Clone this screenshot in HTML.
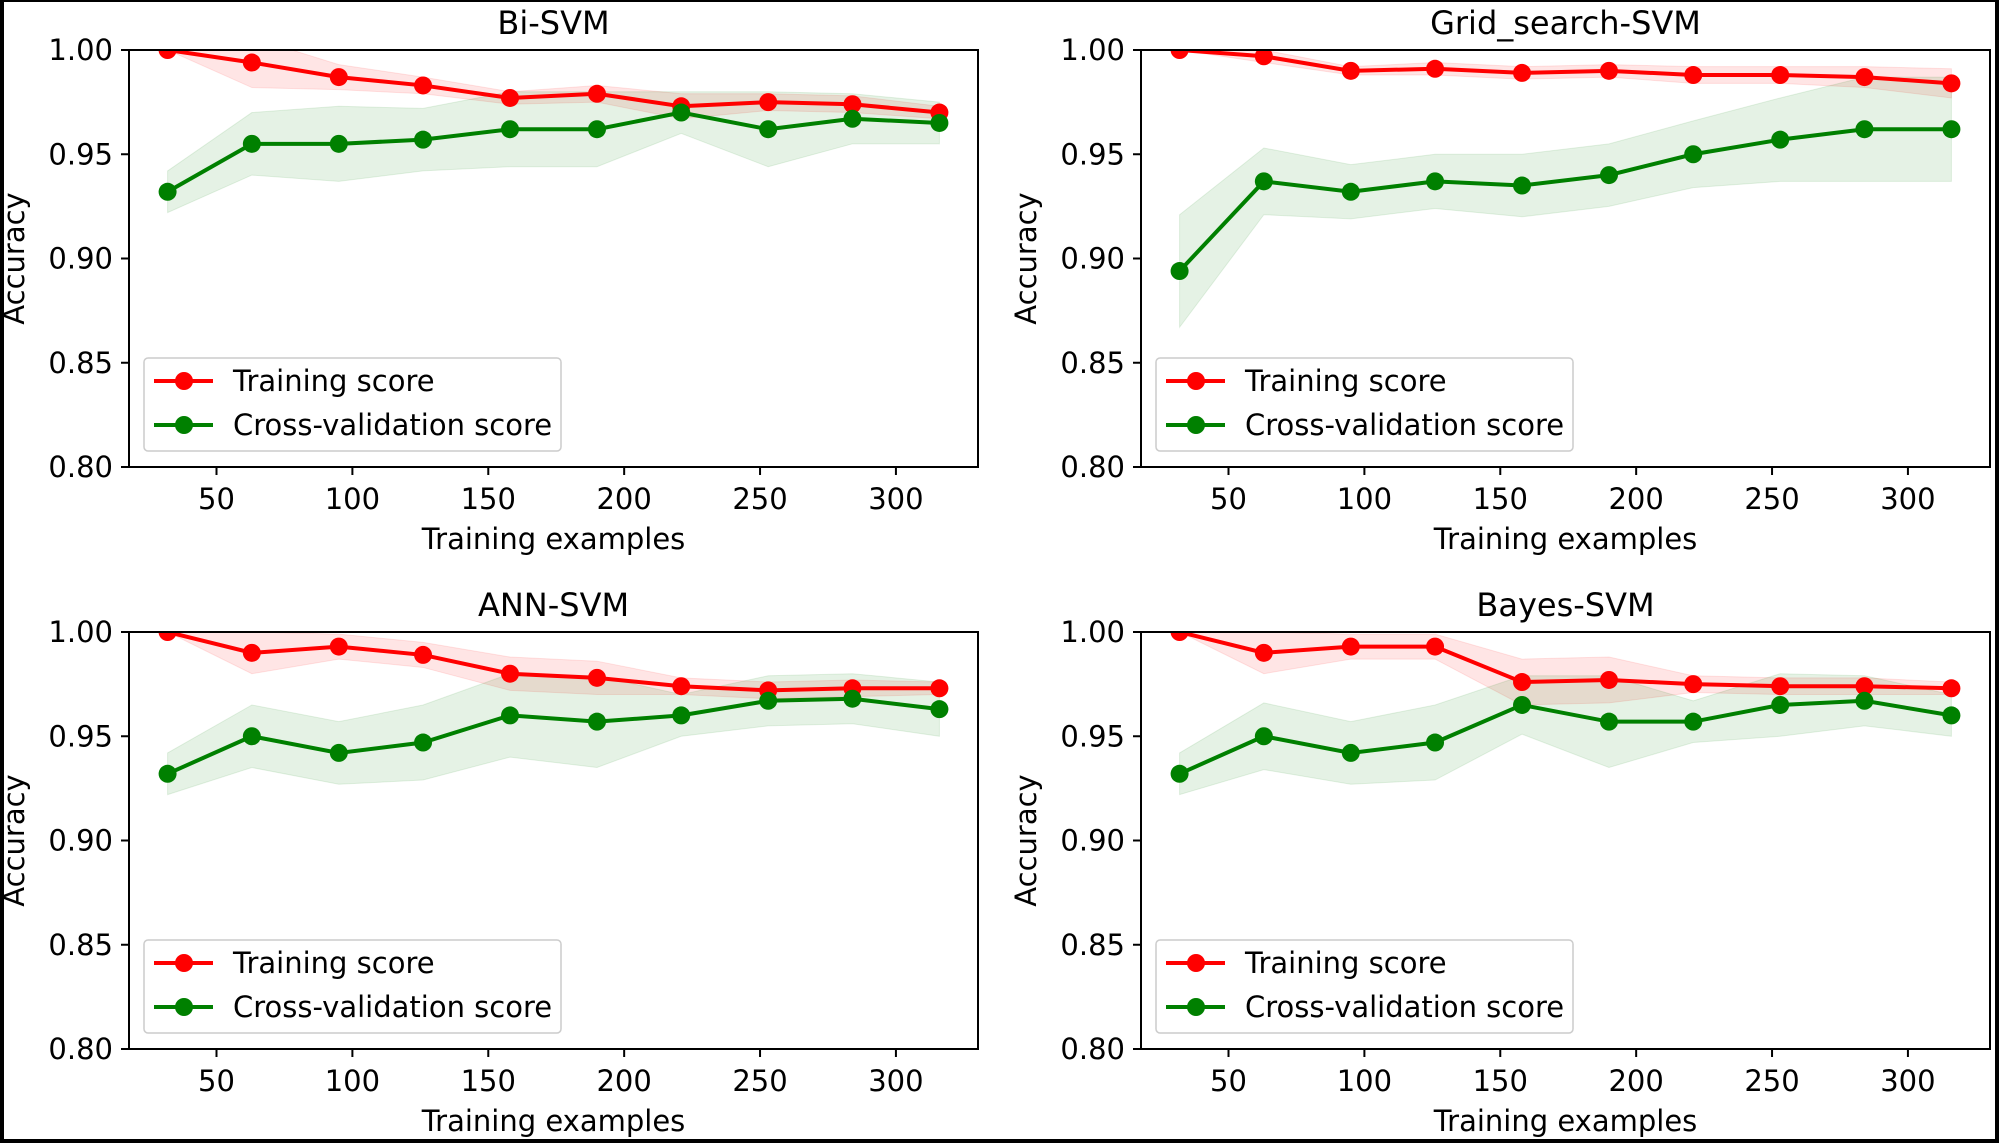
<!DOCTYPE html>
<html><head><meta charset="utf-8">
<style>
html,body{margin:0;padding:0;background:#fff;}
#wrap{position:relative;width:1999px;height:1143px;overflow:hidden;box-sizing:border-box;border:4px solid #000;border-top-width:2px;}
svg{position:absolute;left:-4px;top:-2px;}
text{font-family:"DejaVu Sans","Liberation Sans",sans-serif;fill:#000;}
</style></head>
<body>
<div id="wrap">
<svg id="fig" width="1999" height="1143" viewBox="0 0 1999 1143"></svg>
</div>
<script>
const sizes = [32, 63, 95, 126, 158, 190, 221, 253, 284, 316];
const xTicks = [50, 100, 150, 200, 250, 300];
const yTicks = [0.80, 0.85, 0.90, 0.95, 1.00];
const titles = ["Bi-SVM", "Grid_search-SVM", "ANN-SVM", "Bayes-SVM"];

const biTrain = [1.000, 0.994, 0.987, 0.983, 0.977, 0.979, 0.973, 0.975, 0.974, 0.970];
const biTrainStd = [0.000, 0.012, 0.006, 0.004, 0.003, 0.004, 0.006, 0.004, 0.004, 0.003];
const biCV = [0.932, 0.955, 0.955, 0.957, 0.962, 0.962, 0.970, 0.962, 0.967, 0.965];
const biCVStd = [0.010, 0.015, 0.018, 0.015, 0.018, 0.018, 0.010, 0.018, 0.012, 0.010];

const gridTrain = [1.000, 0.997, 0.990, 0.991, 0.989, 0.990, 0.988, 0.988, 0.987, 0.984];
const gridTrainStd = [0.000, 0.003, 0.002, 0.003, 0.003, 0.003, 0.004, 0.004, 0.005, 0.007];
const gridCV = [0.894, 0.937, 0.932, 0.937, 0.935, 0.940, 0.950, 0.957, 0.962, 0.962];
const gridCVStd = [0.027, 0.016, 0.013, 0.013, 0.015, 0.015, 0.016, 0.020, 0.025, 0.025];

const annTrain = [1.000, 0.990, 0.993, 0.989, 0.980, 0.978, 0.974, 0.972, 0.973, 0.973];
const annTrainStd = [0.000, 0.010, 0.006, 0.006, 0.008, 0.008, 0.004, 0.004, 0.004, 0.003];
const annCV = [0.932, 0.950, 0.942, 0.947, 0.960, 0.957, 0.960, 0.967, 0.968, 0.963];
const annCVStd = [0.010, 0.015, 0.015, 0.018, 0.020, 0.022, 0.010, 0.012, 0.012, 0.013];

const bayesTrain = [1.000, 0.990, 0.993, 0.993, 0.976, 0.977, 0.975, 0.974, 0.974, 0.973];
const bayesTrainStd = [0.000, 0.010, 0.006, 0.006, 0.011, 0.011, 0.004, 0.004, 0.004, 0.003];
const bayesCV = [0.932, 0.950, 0.942, 0.947, 0.965, 0.957, 0.957, 0.965, 0.967, 0.960];
const bayesCVStd = [0.010, 0.016, 0.015, 0.018, 0.014, 0.022, 0.010, 0.015, 0.012, 0.010];

const panelTrain = [biTrain, gridTrain, annTrain, bayesTrain];
const panelTrainStd = [biTrainStd, gridTrainStd, annTrainStd, bayesTrainStd];
const panelCV = [biCV, gridCV, annCV, bayesCV];
const panelCVStd = [biCVStd, gridCVStd, annCVStd, bayesCVStd];

const NS = "http://www.w3.org/2000/svg";
const svg = document.getElementById("fig");
function mk(tag, attrs, parent){
  const e = document.createElementNS(NS, tag);
  for (const k in attrs) e.setAttribute(k, attrs[k]);
  (parent||svg).appendChild(e);
  return e;
}
const origins = [[129,50],[1141,50],[129,632],[1141,632]];
const W = 849, H = 417;
const xMin = 17.8, xMax = 330.2, yMin = 0.80, yMax = 1.00;

for (let p = 0; p < 4; p++) {
  const [ox, oy] = origins[p];
  const xs = v => ox + (v - xMin) / (xMax - xMin) * W;
  const ys = v => oy + H - (v - yMin) / (yMax - yMin) * H;
  const g = mk("g", {});
  
  
  const clipId = "clip" + p;
  const cp = mk("clipPath", {id: clipId}, g);
  mk("rect", {x: ox, y: oy, width: W, height: H}, cp);
  const plot = mk("g", {"clip-path": "url(#" + clipId + ")"}, g);

  const series = [
    {m: panelTrain[p], s: panelTrainStd[p], c: "#ff0000", n: "training"},
    {m: panelCV[p], s: panelCVStd[p], c: "#008000", n: "cross-validation"}
  ];
  series.forEach(sr => {
    let up = sizes.map((x, i) => xs(x) + "," + ys(sr.m[i] + sr.s[i]));
    let lo = sizes.map((x, i) => xs(x) + "," + ys(sr.m[i] - sr.s[i])).reverse();
    const band = mk("polygon", {points: up.concat(lo).join(" "), fill: sr.c, "fill-opacity": 0.1, stroke: sr.c, "stroke-opacity": 0.1}, plot);
    
    
  });
  series.forEach(sr => {
    const line = mk("polyline", {points: sizes.map((x, i) => xs(x) + "," + ys(sr.m[i])).join(" "), fill: "none", stroke: sr.c, "stroke-width": 4}, plot);
    
    
    sizes.forEach((x, i) => {
      const c = mk("circle", {cx: xs(x), cy: ys(sr.m[i]), r: 9, fill: sr.c}, plot);
      
      
    });
  });

  const frame = mk("rect", {x: ox, y: oy, width: W, height: H, fill: "none", stroke: "#000", "stroke-width": 2}, g);
  
  

  xTicks.forEach(t => {
    mk("line", {x1: xs(t), x2: xs(t), y1: oy + H, y2: oy + H + 8, stroke: "#000", "stroke-width": 2}, g);
    const tx = mk("text", {x: xs(t), y: oy + H + 42, "text-anchor": "middle", "font-size": 29}, g);
    tx.textContent = t;
    
    
  });
  yTicks.forEach(t => {
    mk("line", {x1: ox - 8, x2: ox, y1: ys(t), y2: ys(t), stroke: "#000", "stroke-width": 2}, g);
    const ty = mk("text", {x: ox - 16, y: ys(t) + 10, "text-anchor": "end", "font-size": 29}, g);
    ty.textContent = t.toFixed(2);
    
    
  });
  const tt = mk("text", {x: ox + W / 2, y: oy - 16, "text-anchor": "middle", "font-size": 32}, g);
  tt.textContent = titles[p];
  
  
  const xl = mk("text", {x: ox + W / 2, y: oy + H + 82, "text-anchor": "middle", "font-size": 29}, g);
  xl.textContent = "Training examples";
  
  
  const yl = mk("text", {x: ox - 105, y: oy + H / 2, "text-anchor": "middle", "font-size": 29, transform: "rotate(-90 " + (ox - 105) + " " + (oy + H / 2) + ")"}, g);
  yl.textContent = "Accuracy";
  
  

  const lg = mk("g", {}, g);
  
  
  mk("rect", {x: ox + 15, y: oy + 308, width: 417, height: 93, rx: 4, fill: "#fff", "fill-opacity": 0.8, stroke: "#ccc", "stroke-width": 1.5}, lg);
  series.forEach((sr, k) => {
    const ly = oy + 331 + k * 44;
    const le = mk("g", {}, lg);
    
    
    mk("line", {x1: ox + 25, x2: ox + 84, y1: ly, y2: ly, stroke: sr.c, "stroke-width": 4}, le);
    mk("circle", {cx: ox + 55, cy: ly, r: 9, fill: sr.c}, le);
    const lt = mk("text", {x: ox + 104, y: ly + 10, "font-size": 29}, le);
    lt.textContent = k === 0 ? "Training score" : "Cross-validation score";
  });
}
</script>
</body></html>
